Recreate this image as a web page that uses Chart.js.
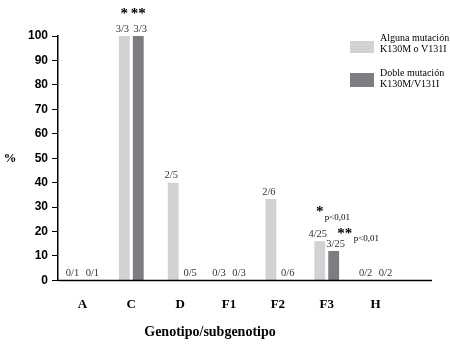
<!DOCTYPE html>
<html>
<head>
    <meta charset="utf-8" />
    <title>Genotipo/subgenotipo</title>
    <style>
        body { margin: 0; background: #fff; }
        #wrap { position: relative; width: 450px; height: 344px; }
    </style>
</head>
<body>
    <div id="wrap">
        <canvas id="chart" width="450" height="344"></canvas>
    </div>

    <script src="https://cdn.jsdelivr.net/npm/chart.js"></script>
    <script type="text/javascript">
        // datos
        const genotipos = ['A', 'C', 'D', 'F1', 'F2', 'F3', 'H'];
        const algunaMutacion = [0, 100, 40, 0, 33.3, 16, 0];
        const dobleMutacion = [0, 100, 0, 0, 0, 12, 0];
        const etiquetasAlguna = ['0/1', '3/3', '2/5', '0/3', '2/6', '4/25', '0/2'];
        const etiquetasDoble = ['0/1', '3/3', '0/5', '0/3', '0/6', '3/25', '0/2'];
        const asteriscosAlguna = ['', '*', '', '', '', '*', ''];
        const asteriscosDoble = ['', '**', '', '', '', '**', ''];
        const pValorAlguna = ['', '', '', '', '', 'p<0,01', ''];
        const pValorDoble = ['', '', '', '', '', 'p<0,01', ''];
        const yTicks = [0, 10, 20, 30, 40, 50, 60, 70, 80, 90, 100];

        const colorClaro = '#d1d2d4';
        const colorOscuro = '#7b7d81';
        const serif = '"Liberation Serif", "Times New Roman", serif';

        const etiquetasPlugin = {
            id: 'etiquetas',
            afterDatasetsDraw(chart) {
                const ctx = chart.ctx;
                const textos = [etiquetasAlguna, etiquetasDoble];
                const stars = [asteriscosAlguna, asteriscosDoble];
                const pvals = [pValorAlguna, pValorDoble];
                ctx.save();
                chart.data.datasets.forEach((ds, d) => {
                    const meta = chart.getDatasetMeta(d);
                    meta.data.forEach((bar, i) => {
                        // las etiquetas se separan un poco hacia fuera
                        const sep = ds.data[i] === 0 ? 3 : 2;
                        const dx = d === 0 ? -sep : sep;
                        ctx.fillStyle = '#333';
                        ctx.font = '10.5px ' + serif;
                        ctx.textAlign = 'center';
                        ctx.textBaseline = 'bottom';
                        ctx.fillText(textos[d][i], bar.x + dx, bar.y - 2);

                        if (stars[d][i]) {
                            // centro visual del asterisco
                            let sx = bar.x, sy = bar.y - 24;
                            if (pvals[d][i]) {
                                if (d === 0) { sy = bar.y - 31; }
                                else { sx = bar.x + 11; sy = bar.y - 19; }
                            }
                            ctx.fillStyle = '#000';
                            ctx.font = 'bold 15px ' + serif;
                            ctx.textBaseline = 'middle';
                            ctx.fillText(stars[d][i], sx, sy + 2);
                            if (pvals[d][i]) {
                                ctx.font = '9px ' + serif;
                                ctx.textAlign = 'left';
                                ctx.fillText(pvals[d][i], sx + (d === 0 ? 5 : 9), sy + 7);
                            }
                        }
                    });
                });
                ctx.restore();
            }
        };

        const decoracionPlugin = {
            id: 'decoracion',
            afterDraw(chart) {
                const ctx = chart.ctx;
                const a = chart.chartArea;
                ctx.save();
                // linea del eje x
                ctx.strokeStyle = '#000';
                ctx.lineWidth = 1.5;
                ctx.beginPath();
                ctx.moveTo(a.left, a.bottom);
                ctx.lineTo(a.right + 32, a.bottom);
                ctx.stroke();

                // titulos de ejes
                ctx.fillStyle = '#000';
                ctx.textAlign = 'center';
                ctx.textBaseline = 'middle';
                ctx.font = 'bold 13px ' + serif;
                ctx.fillText('%', 10, (a.top + a.bottom) / 2);
                ctx.font = 'bold 14px ' + serif;
                ctx.fillText('Genotipo/subgenotipo', 210, 332);

                // leyenda
                ctx.font = '10px ' + serif;
                ctx.textAlign = 'left';
                ctx.fillStyle = colorClaro;
                ctx.fillRect(350, 41, 24, 12);
                ctx.fillStyle = colorOscuro;
                ctx.fillRect(350, 73, 24, 14);
                ctx.fillStyle = '#000';
                ctx.fillText(chart.data.datasets[0].label[0], 380, 38);
                ctx.fillText(chart.data.datasets[0].label[1], 380, 49);
                ctx.fillText(chart.data.datasets[1].label[0], 380, 73);
                ctx.fillText(chart.data.datasets[1].label[1], 380, 84);
                ctx.restore();
            }
        };

        const ctx = document.getElementById('chart').getContext('2d');
        const myChart = new Chart(ctx, {
            type: 'bar',
            data: {
                labels: genotipos,
                datasets: [{
                    label: ['Alguna mutación', 'K130M o V131I'],
                    data: algunaMutacion,
                    backgroundColor: colorClaro,
                    barPercentage: 0.78,
                    categoryPercentage: 0.57
                }, {
                    label: ['Doble mutación', 'K130M/V131I'],
                    data: dobleMutacion,
                    backgroundColor: colorOscuro,
                    barPercentage: 0.78,
                    categoryPercentage: 0.57
                }]
            },
            options: {
                responsive: false,
                animation: false,
                layout: { padding: { left: 24, right: 50, top: 36, bottom: 16 } },
                plugins: {
                    legend: { display: false },
                    tooltip: { enabled: false }
                },
                scales: {
                    x: {
                        grid: { display: false, drawTicks: false },
                        border: { display: false },
                        ticks: {
                            color: '#000',
                            padding: 16,
                            font: { family: serif, size: 13, weight: 'bold' }
                        }
                    },
                    y: {
                        min: 0,
                        max: 100,
                        afterBuildTicks(scale) {
                            scale.ticks = yTicks.map(v => ({ value: v }));
                        },
                        grid: {
                            drawOnChartArea: false,
                            drawTicks: true,
                            tickLength: 6,
                            color: '#000'
                        },
                        border: { display: true, color: '#000', width: 1.5 },
                        ticks: {
                            color: '#000',
                            padding: 4,
                            font: { family: '"Liberation Sans", Arial, sans-serif', size: 12, weight: 'bold' }
                        }
                    }
                }
            },
            plugins: [etiquetasPlugin, decoracionPlugin]
        });
    </script>
</body>
</html>
